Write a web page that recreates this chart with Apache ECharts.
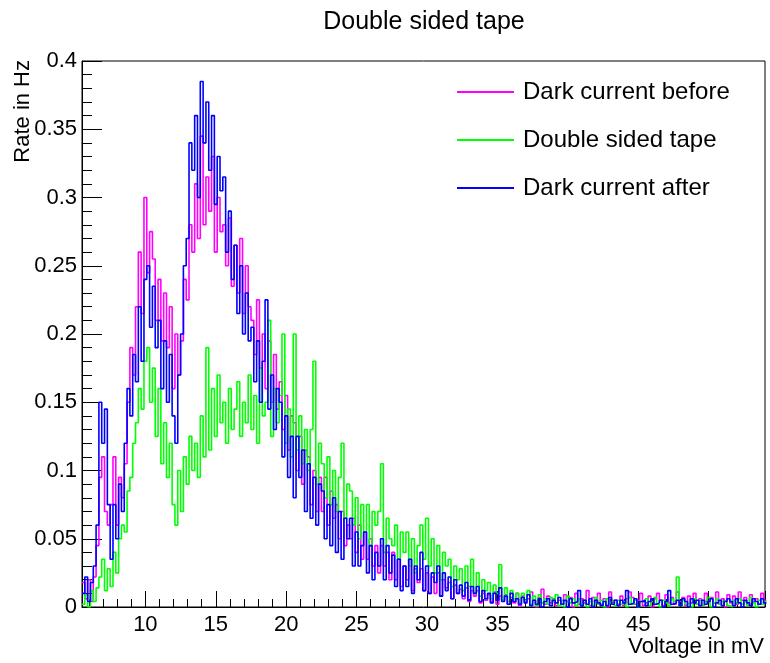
<!DOCTYPE html>
<html><head><meta charset="utf-8">
<script src="https://cdn.jsdelivr.net/npm/echarts@6/dist/echarts.min.js"></script>
<style>html,body{margin:0;padding:0;background:#fff}#c{width:770px;height:663px}</style>
</head><body><div id="c"></div>
<script>
const chartTitle = 'Double sided tape';
const xTitle = 'Voltage in mV';
const yTitle = 'Rate in Hz';
const seriesNames = ['Dark current before', 'Double sided tape', 'Dark current after'];
const seriesColors = ['#ff00ff', '#00ff00', '#0000ff'];
const xTickLabels = [10, 15, 20, 25, 30, 35, 40, 45, 50];
const binStart = 5.5;
const binWidth = 0.2;

const darkBefore = [
.018,.006,.020,.004,.022,
.045,.095,.110,.070,.060,
.075,.110,.060,.095,.080,
.105,.150,.190,.170,.220,
.260,.215,.300,.245,.275,
.255,.210,.240,.195,.230,
.190,.220,.160,.200,.170,
.195,.240,.225,.280,.260,
.310,.270,.345,.280,.315,
.290,.330,.260,.300,.275,
.280,.250,.285,.235,.265,
.230,.270,.215,.250,.220,
.210,.185,.225,.175,.200,
.160,.195,.150,.185,.145,
.165,.130,.155,.115,.140,
.135,.100,.125,.090,.115,
.110,.075,.100,.070,.095,
.070,.095,.060,.085,.065,
.075,.050,.070,.045,.060,
.050,.065,.040,.060,.035,
.055,.035,.050,.030,.045,
.025,.045,.030,.040,.020,
.040,.020,.035,.015,.030,
.020,.035,.012,.028,.018,
.028,.012,.025,.010,.022,
.010,.025,.008,.020,.014,
.018,.006,.016,.010,.013,
.006,.014,.004,.012,.008,
.012,.003,.010,.005,.009,
.004,.011,.002,.008,.005,
.009,.002,.007,.003,.010,
.001,.008,.004,.006,.011,
.005,.000,.007,.013,.002,
.008,.003,.006,.001,.005,
.002,.009,.004,.007,.000,
.010,.002,.006,.003,.012,
.001,.007,.004,.010,.002,
.006,.000,.011,.003,.005,
.002,.008,.001,.006,.011,
.007,.002,.005,.010,.001,
.003,.008,.000,.006,.010,
.005,.001,.009,.003,.007,
.002,.011,.004,.007,.001,
.008,.003,.010,.002,.006,
.001,.010,.004,.007,.003,
.011,.002,.006,.000,.009,
.003,.008,.002,.011,.005,
.007,.001,.009,.004,.006,
.002,.010,.005
];

const tapeData = [
.002,.009,.000,.012,.004,
.014,.022,.035,.012,.028,
.015,.040,.025,.050,.060,
.055,.085,.095,.120,.135,
.160,.145,.180,.190,.150,
.175,.125,.160,.105,.135,
.095,.120,.075,.060,.100,
.070,.110,.090,.125,.100,
.120,.095,.140,.110,.190,
.115,.160,.125,.170,.135,
.150,.120,.160,.130,.145,
.165,.125,.150,.135,.170,
.130,.155,.120,.175,.140,
.150,.210,.125,.160,.135,
.155,.200,.120,.145,.110,
.200,.115,.140,.105,.130,
.100,.130,.180,.090,.120,
.105,.080,.110,.075,.100,
.070,.095,.120,.065,.090,
.085,.060,.080,.050,.075,
.055,.075,.045,.070,.060,
.070,.105,.040,.065,.050,
.045,.060,.035,.055,.040,
.055,.030,.050,.025,.045,
.060,.035,.065,.030,.050,
.025,.045,.020,.040,.030,
.035,.015,.030,.020,.028,
.012,.030,.015,.035,.010,
.025,.008,.020,.012,.018,
.006,.016,.010,.031,.005,
.014,.004,.012,.006,.010,
.003,.010,.005,.012,.002,
.008,.001,.009,.003,.006,
.002,.007,.004,.009,.001,
.005,.000,.008,.003,.006,
.001,.006,.002,.005,.000,
.004,.001,.007,.002,.005,
.000,.006,.003,.005,.001,
.005,.002,.004,.000,.007,
.002,.005,.000,.004,.003,
.006,.001,.004,.007,.002,
.000,.005,.003,.001,.006,
.004,.022,.001,.005,.002,
.003,.000,.006,.002,.005,
.001,.004,.007,.000,.003,
.006,.002,.004,.005,.001,
.000,.005,.003,.006,.002,
.004,.001,.007,.003,.000,
.005,.002,.004
];

const darkAfter = [
.010,.022,.004,.018,.030,
.060,.150,.120,.145,.075,
.035,.075,.050,.090,.070,
.120,.160,.140,.185,.165,
.220,.180,.240,.250,.205,
.235,.190,.210,.160,.195,
.150,.185,.140,.120,.170,
.200,.250,.270,.340,.320,
.360,.300,.385,.340,.370,
.320,.360,.295,.330,.305,
.315,.260,.290,.240,.265,
.215,.250,.200,.230,.195,
.205,.165,.195,.150,.180,
.225,.145,.170,.130,.160,
.150,.110,.140,.095,.125,
.080,.125,.095,.115,.070,
.105,.065,.095,.060,.090,
.085,.050,.075,.045,.080,
.040,.070,.035,.065,.050,
.065,.030,.055,.030,.045,
.055,.025,.045,.020,.040,
.030,.050,.020,.045,.025,
.038,.015,.035,.012,.030,
.015,.035,.010,.030,.020,
.040,.012,.030,.010,.025,
.018,.030,.008,.025,.012,
.022,.006,.020,.010,.016,
.008,.018,.005,.015,.010,
.015,.004,.012,.006,.010,
.003,.010,.005,.014,.004,
.008,.002,.010,.004,.006,
.002,.007,.003,.009,.001,
.005,.002,.006,.000,.004,
.006,.001,.005,.003,.007,
.002,.005,.000,.006,.003,
.004,.012,.001,.005,.002,
.006,.000,.005,.003,.001,
.004,.001,.007,.002,.005,
.001,.005,.003,.012,.002,
.003,.006,.000,.004,.005,
.001,.004,.006,.002,.003,
.005,.000,.004,.012,.002,
.003,.005,.001,.006,.004,
.000,.006,.003,.005,.001,
.005,.002,.004,.006,.000,
.003,.005,.001,.004,.006,
.004,.001,.006,.003,.000,
.005,.003,.001,.006,.004,
.002,.006,.003
];

const FONT = '"Liberation Sans", Arial, Helvetica, sans-serif';

function toSteps(vals) {
  const d = vals.map((v, i) => [+(binStart + i * binWidth).toFixed(3), v]);
  d.push([+(binStart + vals.length * binWidth).toFixed(3), vals[vals.length - 1]]);
  return d;
}

const allSeries = [darkBefore, tapeData, darkAfter];
const chart = echarts.init(document.getElementById('c'), null, { renderer: 'canvas' });
chart.setOption({
  animation: false,
  backgroundColor: '#fff',
  grid: { left: 82, top: 61, right: 5, bottom: 56, show: true, borderColor: '#000', borderWidth: 1, backgroundColor: 'transparent' },
  xAxis: {
    type: 'value', min: 5.5, max: 54, minInterval: 5, maxInterval: 5, splitNumber: 10,
    axisLine: { lineStyle: { color: '#000', width: 1 } },
    axisTick: { inside: true, length: 16, lineStyle: { color: '#000' } },
    minorTick: { show: true, splitNumber: 5, length: 8, lineStyle: { color: '#000' } },
    axisLabel: { margin: 7, fontSize: 22, color: '#000', fontFamily: FONT,
      formatter: v => (xTickLabels.indexOf(Math.round(v * 1000) / 1000) >= 0 ? String(v) : '') },
    splitLine: { show: false }
  },
  yAxis: {
    type: 'value', min: 0, max: 0.4, interval: 0.05,
    axisLine: { lineStyle: { color: '#000', width: 1 } },
    axisTick: { inside: true, length: 20, lineStyle: { color: '#000' } },
    minorTick: { show: true, splitNumber: 5, length: 10, lineStyle: { color: '#000' } },
    axisLabel: { margin: 5, fontSize: 22, color: '#000', fontFamily: FONT,
      formatter: v => String(Math.round(v * 1000) / 1000) },
    splitLine: { show: false }
  },
  legend: {
    orient: 'vertical', left: 452, top: 75, icon: 'rect', itemWidth: 57, itemHeight: 2, itemGap: 24,
    textStyle: { fontSize: 24, fontFamily: FONT, color: '#000', padding: [0, 0, 0, 4] },
    data: seriesNames
  },
  series: allSeries.map((vals, k) => ({
    name: seriesNames[k], type: 'line', step: 'end', showSymbol: false, symbol: 'none',
    color: seriesColors[k], lineStyle: { width: 1.6, color: seriesColors[k] },
    data: toSteps(vals), z: 2 + k
  })),
  graphic: [
    { type: 'text', x: 424, y: 22, style: { text: chartTitle, fontSize: 25, fontFamily: FONT, fill: '#000', align: 'center', verticalAlign: 'middle' } },
    { type: 'text', x: 764, y: 647, style: { text: xTitle, fontSize: 22, fontFamily: FONT, fill: '#000', align: 'right', verticalAlign: 'middle' } },
    { type: 'text', x: 23, y: 60, rotation: Math.PI / 2, style: { text: yTitle, fontSize: 22, fontFamily: FONT, fill: '#000', align: 'right', verticalAlign: 'middle' } }
  ]
});
</script>
</body></html>
